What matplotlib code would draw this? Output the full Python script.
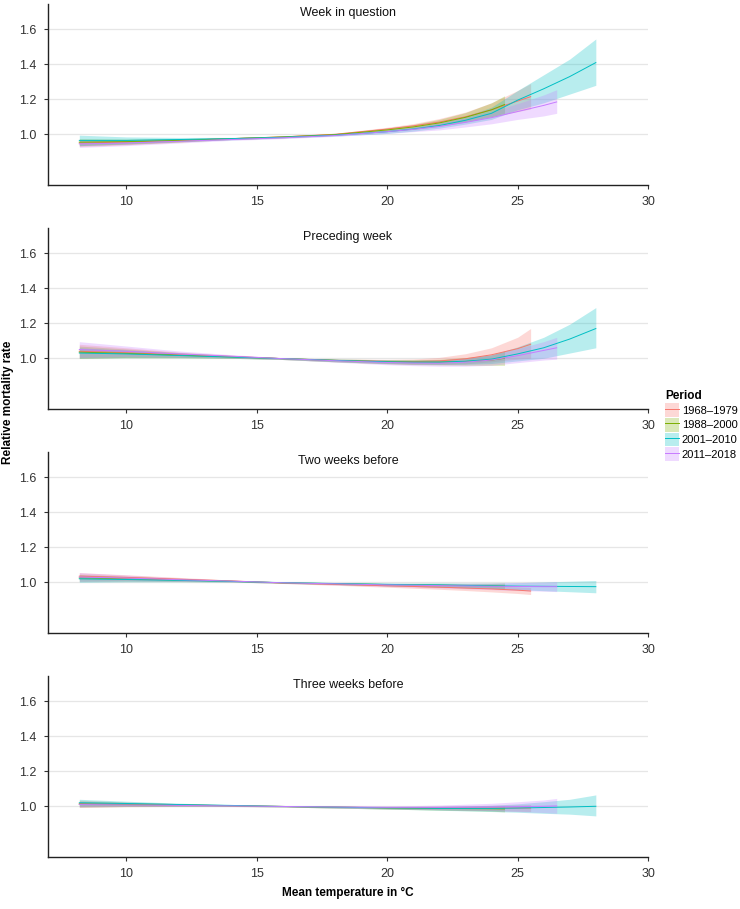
import matplotlib
matplotlib.use("Agg")
import matplotlib.pyplot as plt
from matplotlib import font_manager
from matplotlib.patches import Patch
from matplotlib.lines import Line2D

names = {f.name for f in font_manager.fontManager.ttflist}
FAM = 'Liberation Sans Narrow' if 'Liberation Sans Narrow' in names else 'Liberation Sans'
plt.rcParams['font.family'] = [FAM, 'DejaVu Sans']

periods = ["1968–1979", "1988–2000", "2001–2010", "2011–2018"]
colors = ["#F8766D", "#7CAE00", "#00BFC4", "#C77CFF"]
panel_titles = ["Week in question", "Preceding week", "Two weeks before", "Three weeks before"]

# temperature grids per period
temp_1968 = [8.2, 10, 12, 14, 16, 18, 20, 21, 22, 23, 24, 25, 25.5]
temp_1988 = [8.2, 10, 12, 14, 16, 18, 20, 21, 22, 23, 24, 24.5]
temp_2001 = [8.2, 10, 12, 14, 16, 18, 20, 21, 22, 23, 24, 25, 26, 27, 28]
temp_2011 = [8.2, 10, 12, 14, 16, 18, 20, 21, 22, 23, 24, 25, 26, 26.5]
temps = [temp_1968, temp_1988, temp_2001, temp_2011]

# Panel 1: Week in question (estimate, lower, upper)
wq_1968 = [0.950, 0.955, 0.965, 0.975, 0.985, 1.000, 1.030, 1.048, 1.070, 1.100, 1.140, 1.190, 1.215]
wq_1968_lo = [0.930, 0.940, 0.955, 0.970, 0.980, 0.995, 1.020, 1.035, 1.050, 1.073, 1.100, 1.130, 1.145]
wq_1968_hi = [0.970, 0.970, 0.975, 0.980, 0.990, 1.005, 1.040, 1.061, 1.090, 1.127, 1.180, 1.250, 1.290]
wq_1988 = [0.955, 0.958, 0.965, 0.975, 0.985, 0.998, 1.025, 1.042, 1.065, 1.097, 1.140, 1.170]
wq_1988_lo = [0.935, 0.943, 0.955, 0.970, 0.980, 0.993, 1.015, 1.028, 1.045, 1.070, 1.100, 1.120]
wq_1988_hi = [0.975, 0.973, 0.975, 0.980, 0.990, 1.003, 1.035, 1.056, 1.085, 1.124, 1.180, 1.220]
wq_2001 = [0.965, 0.965, 0.970, 0.975, 0.983, 0.995, 1.015, 1.030, 1.050, 1.080, 1.120, 1.195, 1.260, 1.330, 1.410]
wq_2001_lo = [0.935, 0.945, 0.958, 0.968, 0.978, 0.990, 1.005, 1.018, 1.035, 1.058, 1.085, 1.140, 1.180, 1.230, 1.280]
wq_2001_hi = [0.995, 0.985, 0.982, 0.982, 0.988, 1.000, 1.025, 1.042, 1.065, 1.102, 1.155, 1.250, 1.340, 1.430, 1.545]
wq_2011 = [0.945, 0.950, 0.960, 0.970, 0.980, 0.993, 1.015, 1.028, 1.045, 1.068, 1.095, 1.130, 1.165, 1.185]
wq_2011_lo = [0.925, 0.935, 0.950, 0.965, 0.975, 0.988, 1.005, 1.015, 1.025, 1.042, 1.060, 1.085, 1.105, 1.120]
wq_2011_hi = [0.965, 0.965, 0.970, 0.975, 0.985, 0.998, 1.025, 1.041, 1.065, 1.094, 1.130, 1.175, 1.225, 1.255]

# Panel 2: Preceding week
pw_1968 = [1.040, 1.032, 1.020, 1.010, 0.998, 0.988, 0.982, 0.981, 0.985, 0.997, 1.020, 1.055, 1.080]
pw_1968_lo = [1.000, 1.005, 1.005, 1.002, 0.993, 0.980, 0.970, 0.966, 0.965, 0.968, 0.980, 0.995, 1.000]
pw_1968_hi = [1.080, 1.060, 1.035, 1.018, 1.003, 0.996, 0.994, 0.996, 1.005, 1.026, 1.060, 1.120, 1.170]
pw_1988 = [1.035, 1.028, 1.018, 1.008, 0.998, 0.988, 0.980, 0.978, 0.978, 0.982, 0.990, 1.000]
pw_1988_lo = [1.000, 1.003, 1.003, 1.000, 0.993, 0.980, 0.968, 0.964, 0.962, 0.960, 0.960, 0.960]
pw_1988_hi = [1.070, 1.053, 1.033, 1.016, 1.003, 0.996, 0.992, 0.992, 0.994, 1.004, 1.020, 1.040]
pw_2001 = [1.030, 1.025, 1.016, 1.007, 0.998, 0.988, 0.980, 0.978, 0.978, 0.983, 0.995, 1.025, 1.060, 1.110, 1.170]
pw_2001_lo = [1.000, 1.003, 1.003, 1.000, 0.993, 0.980, 0.970, 0.967, 0.965, 0.966, 0.970, 0.985, 1.000, 1.030, 1.060]
pw_2001_hi = [1.060, 1.047, 1.029, 1.014, 1.003, 0.996, 0.990, 0.989, 0.991, 1.000, 1.020, 1.065, 1.120, 1.195, 1.290]
pw_2011 = [1.050, 1.040, 1.025, 1.012, 0.998, 0.986, 0.976, 0.973, 0.972, 0.978, 0.990, 1.015, 1.045, 1.060]
pw_2011_lo = [1.005, 1.010, 1.008, 1.003, 0.993, 0.978, 0.963, 0.958, 0.955, 0.955, 0.960, 0.975, 0.990, 0.995]
pw_2011_hi = [1.095, 1.070, 1.042, 1.021, 1.003, 0.994, 0.989, 0.988, 0.989, 1.001, 1.020, 1.055, 1.095, 1.120]

# Panel 3: Two weeks before
tw_1968 = [1.035, 1.028, 1.018, 1.008, 0.996, 0.988, 0.980, 0.976, 0.972, 0.967, 0.962, 0.955, 0.950]
tw_1968_lo = [1.015, 1.013, 1.008, 1.003, 0.993, 0.983, 0.972, 0.966, 0.960, 0.953, 0.945, 0.936, 0.930]
tw_1968_hi = [1.055, 1.043, 1.028, 1.013, 0.999, 0.993, 0.988, 0.986, 0.984, 0.981, 0.979, 0.974, 0.970]
tw_1988 = [1.025, 1.020, 1.013, 1.006, 0.997, 0.992, 0.987, 0.985, 0.983, 0.981, 0.980, 0.978]
tw_1988_lo = [1.005, 1.006, 1.004, 1.002, 0.994, 0.987, 0.980, 0.976, 0.972, 0.968, 0.965, 0.960]
tw_1988_hi = [1.045, 1.034, 1.022, 1.010, 1.000, 0.997, 0.994, 0.994, 0.994, 0.994, 0.995, 0.996]
tw_2001 = [1.020, 1.016, 1.011, 1.005, 0.998, 0.993, 0.988, 0.986, 0.985, 0.982, 0.980, 0.978, 0.977, 0.976, 0.975]
tw_2001_lo = [1.000, 1.002, 1.003, 1.001, 0.995, 0.988, 0.980, 0.977, 0.974, 0.970, 0.965, 0.958, 0.952, 0.946, 0.940]
tw_2001_hi = [1.040, 1.030, 1.019, 1.009, 1.001, 0.998, 0.996, 0.995, 0.996, 0.995, 0.995, 0.998, 1.002, 1.006, 1.010]
tw_2011 = [1.030, 1.024, 1.015, 1.007, 0.997, 0.991, 0.985, 0.983, 0.981, 0.979, 0.977, 0.976, 0.975, 0.975]
tw_2011_lo = [1.005, 1.007, 1.005, 1.002, 0.994, 0.985, 0.976, 0.972, 0.968, 0.963, 0.958, 0.953, 0.949, 0.947]
tw_2011_hi = [1.055, 1.041, 1.025, 1.012, 1.000, 0.997, 0.994, 0.994, 0.994, 0.995, 0.996, 0.999, 1.001, 1.003]

# Panel 4: Three weeks before
th_1968 = [1.015, 1.012, 1.008, 1.004, 0.999, 0.995, 0.992, 0.991, 0.990, 0.990, 0.990, 0.990, 0.990]
th_1968_lo = [0.995, 0.999, 1.000, 1.000, 0.996, 0.990, 0.985, 0.982, 0.980, 0.977, 0.975, 0.972, 0.970]
th_1968_hi = [1.035, 1.025, 1.016, 1.008, 1.002, 1.000, 0.999, 0.999, 1.000, 1.002, 1.005, 1.008, 1.010]
th_1988 = [1.012, 1.010, 1.007, 1.003, 0.999, 0.995, 0.991, 0.990, 0.988, 0.987, 0.986, 0.985]
th_1988_lo = [0.995, 0.998, 0.999, 0.999, 0.996, 0.990, 0.984, 0.981, 0.978, 0.975, 0.972, 0.968]
th_1988_hi = [1.029, 1.022, 1.015, 1.007, 1.002, 1.000, 0.998, 0.998, 0.998, 0.999, 1.000, 1.002]
th_2001 = [1.020, 1.016, 1.010, 1.005, 0.999, 0.995, 0.991, 0.990, 0.988, 0.988, 0.988, 0.990, 0.993, 0.996, 1.000]
th_2001_lo = [1.000, 1.003, 1.002, 1.001, 0.996, 0.990, 0.984, 0.981, 0.977, 0.974, 0.970, 0.966, 0.960, 0.955, 0.945]
th_2001_hi = [1.040, 1.029, 1.018, 1.009, 1.002, 1.000, 0.998, 0.998, 0.999, 1.002, 1.006, 1.014, 1.026, 1.040, 1.065]
th_2011 = [1.010, 1.008, 1.005, 1.002, 0.999, 0.996, 0.994, 0.994, 0.994, 0.995, 0.996, 0.998, 1.000, 1.002]
th_2011_lo = [0.995, 0.998, 0.998, 0.998, 0.996, 0.991, 0.986, 0.984, 0.981, 0.978, 0.975, 0.970, 0.964, 0.960]
th_2011_hi = [1.025, 1.018, 1.012, 1.006, 1.002, 1.001, 1.002, 1.004, 1.007, 1.012, 1.017, 1.026, 1.036, 1.045]

panels = [
    [(wq_1968, wq_1968_lo, wq_1968_hi), (wq_1988, wq_1988_lo, wq_1988_hi),
     (wq_2001, wq_2001_lo, wq_2001_hi), (wq_2011, wq_2011_lo, wq_2011_hi)],
    [(pw_1968, pw_1968_lo, pw_1968_hi), (pw_1988, pw_1988_lo, pw_1988_hi),
     (pw_2001, pw_2001_lo, pw_2001_hi), (pw_2011, pw_2011_lo, pw_2011_hi)],
    [(tw_1968, tw_1968_lo, tw_1968_hi), (tw_1988, tw_1988_lo, tw_1988_hi),
     (tw_2001, tw_2001_lo, tw_2001_hi), (tw_2011, tw_2011_lo, tw_2011_hi)],
    [(th_1968, th_1968_lo, th_1968_hi), (th_1988, th_1988_lo, th_1988_hi),
     (th_2001, th_2001_lo, th_2001_hi), (th_2011, th_2011_lo, th_2011_hi)],
]

xticks = [10, 15, 20, 25, 30]
yticks = [1.0, 1.2, 1.4, 1.6]

W, H = 740, 909
fig = plt.figure(figsize=(W / 100, H / 100), dpi=100)

left_px, right_px = 48, 648
top0, bot0, step = 4, 185, 224
ALPHA = 0.28

for i, (title, series) in enumerate(zip(panel_titles, panels)):
    top = top0 + step * i
    bot = bot0 + step * i
    ax = fig.add_axes([left_px / W, 1 - bot / H, (right_px - left_px) / W, (bot - top) / H])
    for (vals, lo, hi), x, c in zip(series, temps, colors):
        ax.fill_between(x, lo, hi, color=c, alpha=ALPHA, linewidth=0)
        ax.plot(x, vals, color=c, lw=0.7)
    ax.set_xlim(7, 30)
    ax.set_ylim(0.71, 1.745)
    ax.set_xticks(xticks)
    ax.set_yticks(yticks)
    ax.set_yticklabels([f"{v:.1f}" for v in yticks])
    ax.yaxis.grid(True, color="#e6e6e6", lw=0.9)
    ax.set_axisbelow(True)
    for s in ["top", "right"]:
        ax.spines[s].set_visible(False)
    for s in ["left", "bottom"]:
        ax.spines[s].set_color("#222222")
        ax.spines[s].set_linewidth(1.0)
    ax.tick_params(axis="both", length=3, width=0.8, color="#333333",
                   labelsize=9, labelcolor="#333333", pad=5)
    ax.text(0.5, 0.985, title, transform=ax.transAxes, ha="center", va="top",
            fontsize=9, color="#111111")

fig.text(8 / W, 1 - 402 / H, "Relative mortality rate", rotation=90,
         ha="center", va="center", fontsize=8.5, fontweight="bold")
fig.text(348 / W, 1 - 893 / H, "Mean temperature in °C", ha="center", va="center",
         fontsize=8.5, fontweight="bold")

handles = [(Patch(facecolor=c, alpha=ALPHA, edgecolor="none"), Line2D([], [], color=c, lw=0.7))
           for c in colors]
leg = fig.legend(handles, periods, title="Period", loc="upper left",
                 bbox_to_anchor=(663 / W, 1 - 388 / H), frameon=False,
                 fontsize=8, title_fontproperties={"weight": "bold", "size": 8.5},
                 handlelength=1.2, handleheight=1.5, handletextpad=0.3,
                 labelspacing=0.1, borderpad=0.2, borderaxespad=0)
leg._legend_box.align = "left"

fig.savefig("out.png", dpi=100, facecolor="white")
